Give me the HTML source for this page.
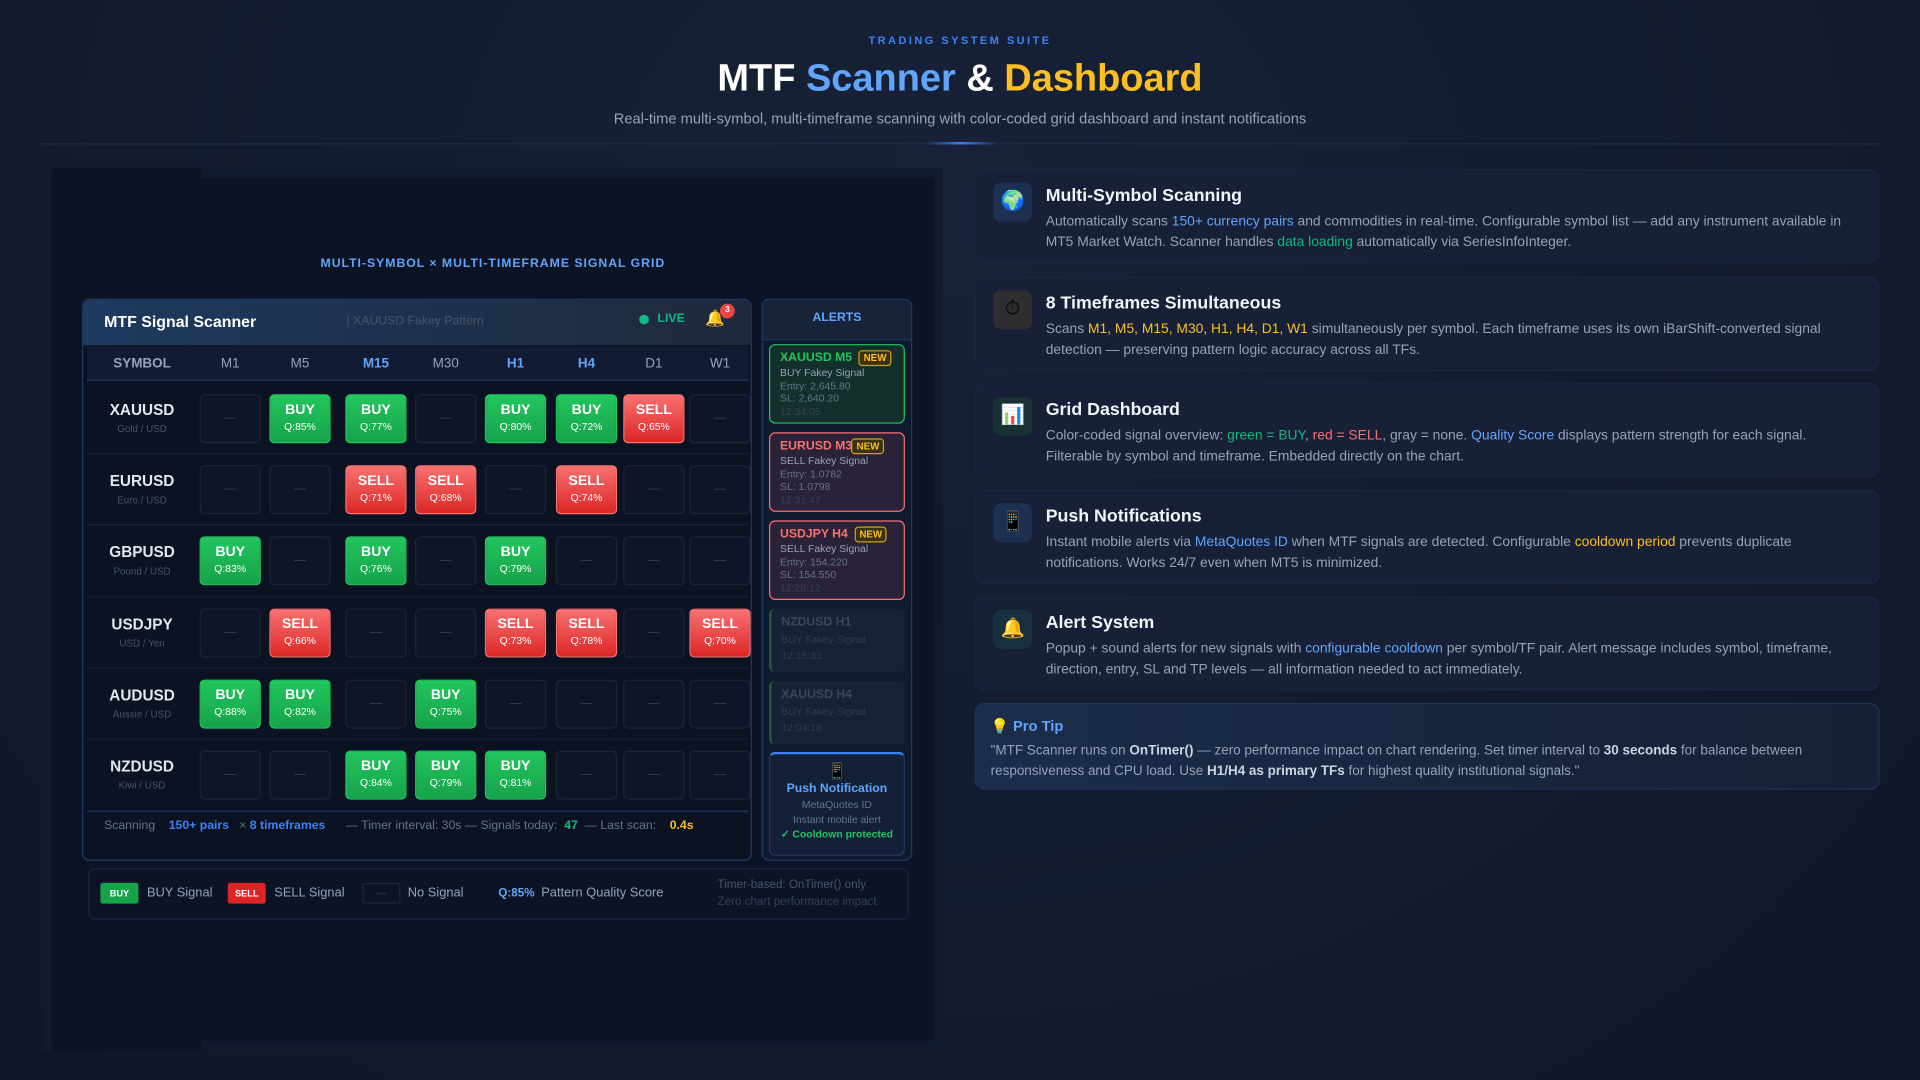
<!DOCTYPE html>
<html><head><meta charset="utf-8">
<style>
*{margin:0;padding:0;box-sizing:border-box}
body{width:1920px;height:1080px;overflow:hidden;background:#131b2e;font-family:"Liberation Sans",sans-serif}
#w{position:absolute;left:0;top:0;width:1568px;height:882px;transform:scale(1.22449);transform-origin:0 0;background:radial-gradient(ellipse at 50% 20%,#182238 0%,#121a2c 60%,#0f1626 100%)}
.a{position:absolute}
.c{position:absolute;width:50px;height:40px;border-radius:4px;text-align:center;color:#fff}
.e{background:#0e1526;border:1px solid #1c2538;color:#334155;font-size:10px;line-height:38px}
.b{background:linear-gradient(#22c55e,#16a34a);border:1px solid #22c55e}
.s{background:linear-gradient(#f87171,#dc2626);border:1px solid #f87171}
.b b,.s b{display:block;font-size:11.5px;margin-top:6px}
.b i,.s i{display:block;font-style:normal;font-size:8.5px;margin-top:2px}
.sym{position:absolute;left:71px;width:90px;text-align:center}
.sym b{display:block;color:#e2e8f0;font-size:12.5px}
.sym i{display:block;font-style:normal;color:#475569;font-size:8px;margin-top:4px}
.hd{position:absolute;top:291px;width:50px;text-align:center;font-size:11px;color:#94a3b8}
.card{position:absolute;left:796px;width:739px;background:#172036;border:1px solid #1b2540;border-radius:8px}
.ic{position:absolute;left:14px;top:10px;width:32px;height:32px;border-radius:7px;background:#1e3050;text-align:center;line-height:32px;font-size:16px}
.ct{position:absolute;left:57px;top:13px;color:#f1f5f9;font-size:14.5px;font-weight:bold}
.cb{position:absolute;left:57px;top:34px;width:670px;color:#94a3b8;font-size:11.3px;line-height:17px}
.al{position:absolute;left:628px;width:111px;border-radius:5px;padding:4px 0 0 8px;font-size:8.5px;line-height:10.5px}
.al b{font-size:10px}
.new{display:inline-block;border:1px solid #d69e1e;color:#fbbf24;background:#3a3312;font-size:8px;font-weight:bold;padding:0 3px;border-radius:3px;line-height:11px;margin-left:3px}
</style></head><body><div id="w">
<div class="a" style="top:28px;width:1568px;text-align:center;font-size:9px;font-weight:bold;letter-spacing:2px;color:#3b82f6">TRADING SYSTEM SUITE</div>
<div class="a" style="top:46px;width:1568px;text-align:center;font-size:31px;font-weight:bold;color:#fff">MTF <span style="color:#60a5fa">Scanner</span> &amp; <span style="color:#fbbf24">Dashboard</span></div>
<div class="a" style="top:90px;width:1568px;text-align:center;font-size:12px;color:#94a3b8">Real-time multi-symbol, multi-timeframe scanning with color-coded grid dashboard and instant notifications</div>
<div class="a" style="left:33px;top:117px;width:1502px;height:1px;background:#1e2a44"></div>
<div class="a" style="left:755px;top:116px;width:60px;height:2px;background:linear-gradient(90deg,transparent,#3b82f6,transparent)"></div>

<div class="a" style="left:34px;top:137px;width:736px;height:721px;background:#111a2c"></div>
<div class="a" style="left:42px;top:137px;width:122px;height:721px;background:#0c1322"></div>
<div class="a" style="left:42px;top:145px;width:721px;height:705px;background:#0c1324"></div>
<div class="a" style="top:210px;left:42px;width:721px;text-align:center;font-size:10px;font-weight:bold;letter-spacing:.8px;color:#60a5fa">MULTI-SYMBOL × MULTI-TIMEFRAME SIGNAL GRID</div>

<div class="a" style="left:67px;top:244px;width:547px;height:459px;background:#0b1222;border:1px solid #1e3a6a;border-radius:6px"></div>
<div class="a" style="left:68px;top:245px;width:545px;height:37px;background:linear-gradient(90deg,#1e3a5f,#1e293b);border-radius:6px 6px 0 0"></div>
<div class="a" style="left:85px;top:255px;color:#fff;font-size:13px;font-weight:bold">MTF Signal Scanner</div>
<div class="a" style="left:283px;top:257px;color:#475569;font-size:10px">| XAUUSD Fakey Pattern</div>
<div class="a" style="left:522px;top:257px;width:8px;height:8px;border-radius:50%;background:#10b981"></div>
<div class="a" style="left:537px;top:255px;color:#10b981;font-size:10px;font-weight:bold">LIVE</div>
<div class="a" style="left:576px;top:252px;font-size:13px;color:#fbbf24">🔔</div>
<div class="a" style="left:588px;top:248px;width:12px;height:12px;border-radius:50%;background:#ef4444;color:#fff;font-size:7px;text-align:center;line-height:12px;font-weight:bold">3</div>
<div class="a" style="left:71px;top:283px;width:540px;height:28px;background:#111b33;border-bottom:1px solid #1e3a6a"></div>
<div class="hd" style="left:91px;width:50px;font-weight:bold">SYMBOL</div>
<div class="hd" style="left:163px">M1</div><div class="hd" style="left:220px">M5</div><div class="hd" style="left:282px;color:#60a5fa;font-weight:bold">M15</div><div class="hd" style="left:339px">M30</div><div class="hd" style="left:396px;color:#60a5fa;font-weight:bold">H1</div><div class="hd" style="left:454px;color:#60a5fa;font-weight:bold">H4</div><div class="hd" style="left:509px">D1</div><div class="hd" style="left:563px">W1</div>
<div class="a" style="left:71px;top:370px;width:540px;height:1px;background:#162036"></div>
<div class="a" style="left:71px;top:428px;width:540px;height:1px;background:#162036"></div>
<div class="a" style="left:71px;top:487px;width:540px;height:1px;background:#162036"></div>
<div class="a" style="left:71px;top:545px;width:540px;height:1px;background:#162036"></div>
<div class="a" style="left:71px;top:603px;width:540px;height:1px;background:#162036"></div>

<div class="sym" style="top:328px"><b>XAUUSD</b><i>Gold / USD</i></div>
<div class="c e" style="left:163px;top:322px">—</div><div class="c b" style="left:220px;top:322px"><b>BUY</b><i>Q:85%</i></div><div class="c b" style="left:282px;top:322px"><b>BUY</b><i>Q:77%</i></div><div class="c e" style="left:339px;top:322px">—</div><div class="c b" style="left:396px;top:322px"><b>BUY</b><i>Q:80%</i></div><div class="c b" style="left:454px;top:322px"><b>BUY</b><i>Q:72%</i></div><div class="c s" style="left:509px;top:322px"><b>SELL</b><i>Q:65%</i></div><div class="c e" style="left:563px;top:322px">—</div>

<div class="sym" style="top:386px"><b>EURUSD</b><i>Euro / USD</i></div>
<div class="c e" style="left:163px;top:380px">—</div><div class="c e" style="left:220px;top:380px">—</div><div class="c s" style="left:282px;top:380px"><b>SELL</b><i>Q:71%</i></div><div class="c s" style="left:339px;top:380px"><b>SELL</b><i>Q:68%</i></div><div class="c e" style="left:396px;top:380px">—</div><div class="c s" style="left:454px;top:380px"><b>SELL</b><i>Q:74%</i></div><div class="c e" style="left:509px;top:380px">—</div><div class="c e" style="left:563px;top:380px">—</div>

<div class="sym" style="top:444px"><b>GBPUSD</b><i>Pound / USD</i></div>
<div class="c b" style="left:163px;top:438px"><b>BUY</b><i>Q:83%</i></div><div class="c e" style="left:220px;top:438px">—</div><div class="c b" style="left:282px;top:438px"><b>BUY</b><i>Q:76%</i></div><div class="c e" style="left:339px;top:438px">—</div><div class="c b" style="left:396px;top:438px"><b>BUY</b><i>Q:79%</i></div><div class="c e" style="left:454px;top:438px">—</div><div class="c e" style="left:509px;top:438px">—</div><div class="c e" style="left:563px;top:438px">—</div>

<div class="sym" style="top:503px"><b>USDJPY</b><i>USD / Yen</i></div>
<div class="c e" style="left:163px;top:497px">—</div><div class="c s" style="left:220px;top:497px"><b>SELL</b><i>Q:66%</i></div><div class="c e" style="left:282px;top:497px">—</div><div class="c e" style="left:339px;top:497px">—</div><div class="c s" style="left:396px;top:497px"><b>SELL</b><i>Q:73%</i></div><div class="c s" style="left:454px;top:497px"><b>SELL</b><i>Q:78%</i></div><div class="c e" style="left:509px;top:497px">—</div><div class="c s" style="left:563px;top:497px"><b>SELL</b><i>Q:70%</i></div>

<div class="sym" style="top:561px"><b>AUDUSD</b><i>Aussie / USD</i></div>
<div class="c b" style="left:163px;top:555px"><b>BUY</b><i>Q:88%</i></div><div class="c b" style="left:220px;top:555px"><b>BUY</b><i>Q:82%</i></div><div class="c e" style="left:282px;top:555px">—</div><div class="c b" style="left:339px;top:555px"><b>BUY</b><i>Q:75%</i></div><div class="c e" style="left:396px;top:555px">—</div><div class="c e" style="left:454px;top:555px">—</div><div class="c e" style="left:509px;top:555px">—</div><div class="c e" style="left:563px;top:555px">—</div>

<div class="sym" style="top:619px"><b>NZDUSD</b><i>Kiwi / USD</i></div>
<div class="c e" style="left:163px;top:613px">—</div><div class="c e" style="left:220px;top:613px">—</div><div class="c b" style="left:282px;top:613px"><b>BUY</b><i>Q:84%</i></div><div class="c b" style="left:339px;top:613px"><b>BUY</b><i>Q:79%</i></div><div class="c b" style="left:396px;top:613px"><b>BUY</b><i>Q:81%</i></div><div class="c e" style="left:454px;top:613px">—</div><div class="c e" style="left:509px;top:613px">—</div><div class="c e" style="left:563px;top:613px">—</div>

<div class="a" style="left:71px;top:662px;width:540px;height:1px;background:#1e3a6a"></div>
<div class="a" style="left:85px;top:669px;font-size:10px;color:#64748b;white-space:nowrap">Scanning &nbsp;&nbsp;&nbsp;<b style="color:#3b82f6">150+ pairs</b> &nbsp;&nbsp;× <b style="color:#3b82f6">8 timeframes</b> &nbsp;&nbsp;&nbsp;&nbsp;&nbsp;— Timer interval: 30s — Signals today: &nbsp;<b style="color:#10b981">47</b> &nbsp;— Last scan: &nbsp;&nbsp;&nbsp;<b style="color:#fbbf24">0.4s</b></div>

<div class="a" style="left:72px;top:709px;width:670px;height:42px;border:1px solid #1a2540;border-radius:6px;background:#0c1324"></div>
<div class="a" style="left:82px;top:721px;width:31px;height:17px;background:#16a34a;border-radius:2px;color:#fff;font-size:7.5px;font-weight:bold;text-align:center;line-height:17px">BUY</div>
<div class="a" style="left:120px;top:723px;font-size:10.5px;color:#94a3b8">BUY Signal</div>
<div class="a" style="left:186px;top:721px;width:31px;height:17px;background:#dc2626;border-radius:2px;color:#fff;font-size:7.5px;font-weight:bold;text-align:center;line-height:17px">SELL</div>
<div class="a" style="left:224px;top:723px;font-size:10.5px;color:#94a3b8">SELL Signal</div>
<div class="a" style="left:296px;top:721px;width:31px;height:17px;border:1px solid #1e293b;border-radius:2px;color:#334155;font-size:8px;text-align:center;line-height:15px">—</div>
<div class="a" style="left:333px;top:723px;font-size:10.5px;color:#94a3b8">No Signal</div>
<div class="a" style="left:407px;top:724px;font-size:9.5px;color:#60a5fa;font-weight:bold">Q:85%</div>
<div class="a" style="left:442px;top:723px;font-size:10.5px;color:#94a3b8">Pattern Quality Score</div>
<div class="a" style="left:586px;top:716px;font-size:9.5px;color:#475569;line-height:14px">Timer-based: OnTimer() only<br><span style="color:#334155">Zero chart performance impact</span></div>

<div class="a" style="left:622px;top:244px;width:123px;height:459px;background:#0f1a2e;border:1px solid #1e3a6a;border-radius:6px"></div>
<div class="a" style="left:623px;top:245px;width:121px;height:33px;background:#172338;border-bottom:1px solid #1e3a6a;border-radius:6px 6px 0 0;text-align:center;line-height:30px;color:#60a5fa;font-size:10px;font-weight:bold">ALERTS</div>
<div class="al" style="top:281px;height:65px;background:#13302c;border:1.5px solid #22c55e"><b style="color:#22c55e">XAUUSD M5</b> <span class="new">NEW</span><br><span style="color:#94a3b8">BUY Fakey Signal</span><br><span style="color:#64748b">Entry: 2,645.80<br>SL: 2,640.20</span><br><span style="color:#334155">12:34:05</span></div>
<div class="al" style="top:353px;height:65px;background:#2a2236;border:1.5px solid #f87171"><b style="color:#f87171">EURUSD M30</b><span class="new" style="margin-left:-6px">NEW</span><br><span style="color:#94a3b8">SELL Fakey Signal</span><br><span style="color:#64748b">Entry: 1.0782<br>SL: 1.0798</span><br><span style="color:#334155">12:31:47</span></div>
<div class="al" style="top:425px;height:65px;background:#2a2236;border:1.5px solid #f87171"><b style="color:#f87171">USDJPY H4</b> <span class="new">NEW</span><br><span style="color:#94a3b8">SELL Fakey Signal</span><br><span style="color:#64748b">Entry: 154.220<br>SL: 154.550</span><br><span style="color:#334155">12:28:12</span></div>
<div class="al" style="top:497px;height:52px;background:#172236;border-left:2px solid #1f5a3f;line-height:13.5px;padding-top:5px"><b style="color:#3b4658">NZDUSD H1</b><br><span style="color:#2e3a4e">BUY Fakey Signal</span><br><span style="color:#2e3a4e">12:15:33</span></div>
<div class="al" style="top:556px;height:52px;background:#172236;border-left:2px solid #1f5a3f;line-height:13.5px;padding-top:5px"><b style="color:#3b4658">XAUUSD H4</b><br><span style="color:#2e3a4e">BUY Fakey Signal</span><br><span style="color:#2e3a4e">12:04:18</span></div>
<div class="al" style="top:614px;height:85px;background:#132038;border:1px solid #1e3a6a;border-top:2px solid #3b82f6;padding:6px 0 0;text-align:center;line-height:12px"><div style="font-size:13px;line-height:16px">📱</div><b style="color:#60a5fa">Push Notification</b><br><span style="color:#64748b">MetaQuotes ID<br>Instant mobile alert</span><br><b style="color:#22c55e;font-size:8.5px">✓ Cooldown protected</b></div>

<div class="card" style="top:138px;height:77px"><div class="ic">🌍</div><div class="ct">Multi-Symbol Scanning</div><div class="cb">Automatically scans <span style="color:#60a5fa">150+ currency pairs</span> and commodities in real-time. Configurable symbol list — add any instrument available in MT5 Market Watch. Scanner handles <span style="color:#10b981">data loading</span> automatically via SeriesInfoInteger.</div></div>
<div class="card" style="top:226px;height:77px"><div class="ic" style="background:#2e2e30">⏱</div><div class="ct">8 Timeframes Simultaneous</div><div class="cb">Scans <span style="color:#fbbf24">M1, M5, M15, M30, H1, H4, D1, W1</span> simultaneously per symbol. Each timeframe uses its own iBarShift-converted signal detection — preserving pattern logic accuracy across all TFs.</div></div>
<div class="card" style="top:313px;height:77px"><div class="ic" style="background:#163232">📊</div><div class="ct">Grid Dashboard</div><div class="cb">Color-coded signal overview: <span style="color:#10b981">green = BUY</span>, <span style="color:#f87171">red = SELL</span>, gray = none. <span style="color:#60a5fa">Quality Score</span> displays pattern strength for each signal. Filterable by symbol and timeframe. Embedded directly on the chart.</div></div>
<div class="card" style="top:400px;height:77px"><div class="ic">📱</div><div class="ct">Push Notifications</div><div class="cb">Instant mobile alerts via <span style="color:#60a5fa">MetaQuotes ID</span> when MTF signals are detected. Configurable <span style="color:#fbbf24">cooldown period</span> prevents duplicate notifications. Works 24/7 even when MT5 is minimized.</div></div>
<div class="card" style="top:487px;height:77px"><div class="ic" style="background:#163040">🔔</div><div class="ct">Alert System</div><div class="cb">Popup + sound alerts for new signals with <span style="color:#60a5fa">configurable cooldown</span> per symbol/TF pair. Alert message includes symbol, timeframe, direction, entry, SL and TP levels — all information needed to act immediately.</div></div>
<div class="card" style="top:574px;height:71px;background:linear-gradient(90deg,#1a2d4a,#172036);border-color:#1e3356"><div class="a" style="left:12px;top:11px;font-size:12px;font-weight:bold;color:#60a5fa">💡 Pro Tip</div><div class="a" style="left:12px;top:30px;width:700px;font-size:11px;line-height:17px;color:#94a3b8">"MTF Scanner runs on <b style="color:#cbd5e1">OnTimer()</b> — zero performance impact on chart rendering. Set timer interval to <b style="color:#cbd5e1">30 seconds</b> for balance between responsiveness and CPU load. Use <b style="color:#cbd5e1">H1/H4 as primary TFs</b> for highest quality institutional signals."</div></div>
</div></body></html>
